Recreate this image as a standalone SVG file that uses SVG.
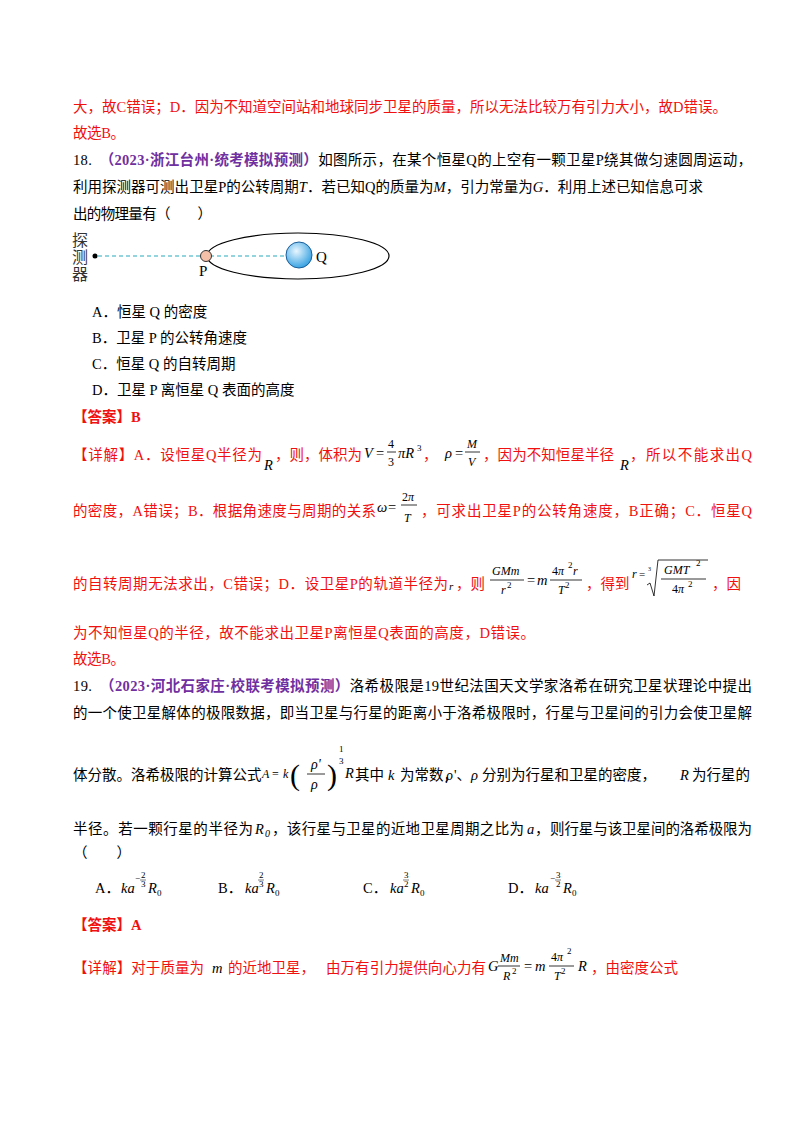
<svg xmlns="http://www.w3.org/2000/svg" width="800" height="1132" viewBox="0 0 800 1132">
<style>
text{font-family:"Liberation Serif","Noto Sans CJK SC",serif;font-size:14.5px;fill:#000}
.r{fill:#f01010}
.p{fill:#7030a0;font-weight:bold}
.m{font-style:italic}
.s{font-size:9px}
.f{font-size:12px}
.b{fill:#f01010;font-weight:bold}
line{stroke:#000;stroke-width:0.8}
</style>
<defs>
<radialGradient id="gq" cx="0.4" cy="0.35" r="0.7"><stop offset="0" stop-color="#e8f6ff"/><stop offset="1" stop-color="#2c9de0"/></radialGradient>
</defs>
<rect width="800" height="1132" fill="#fff"/>
<text x="73" y="112" class="r" textLength="654" lengthAdjust="spacing">大，故C错误；D．因为不知道空间站和地球同步卫星的质量，所以无法比较万有引力大小，故D错误。</text>
<text x="73" y="138" class="r" textLength="52" lengthAdjust="spacing">故选B。</text>
<text x="73" y="165" textLength="679" lengthAdjust="spacing">18.　<tspan class="p">（2023·浙江台州·统考模拟预测）</tspan>如图所示，在某个恒星Q的上空有一颗卫星P绕其做匀速圆周运动，</text>
<text x="73" y="192" textLength="630" lengthAdjust="spacing">利用探测器可测出卫星P的公转周期<tspan class="m">T</tspan>．若已知Q的质量为<tspan class="m">M</tspan>，引力常量为<tspan class="m">G</tspan>．利用上述已知信息可求</text>
<text x="73" y="219" textLength="139" lengthAdjust="spacing">出的物理量有（　　）</text>
<g id="diagram">
<text x="72" y="246" style="font-size:16px;fill:#333">探</text>
<text x="72" y="263" style="font-size:16px;fill:#333">测</text>
<text x="72" y="280" style="font-size:16px;fill:#333">器</text>
<circle cx="95" cy="256" r="2.5" fill="#000"/>
<line x1="98" y1="256" x2="286" y2="256" style="stroke:#2aa9c0;stroke-width:1.2" stroke-dasharray="4,3"/>
<ellipse cx="298" cy="256" rx="91" ry="23" fill="none" stroke="#000" stroke-width="1.2"/>
<circle cx="206" cy="256" r="5.5" fill="#f5c0a8" stroke="#333" stroke-width="1"/>
<circle cx="299" cy="255" r="13" fill="url(#gq)" stroke="#1a5f9a" stroke-width="1"/>
<text x="316" y="262" style="font-size:15px">Q</text>
<text x="199" y="276" style="font-size:15px">P</text>
</g>
<text x="92" y="317">A．恒星 Q 的密度</text>
<text x="92" y="343">B．卫星 P 的公转角速度</text>
<text x="92" y="369">C．恒星 Q 的自转周期</text>
<text x="92" y="395">D．卫星 P 离恒星 Q 表面的高度</text>
<text x="73" y="422" class="b">【答案】B</text>

<text x="73" y="460" class="r" textLength="189" lengthAdjust="spacing">【详解】A．设恒星Q半径为</text>
<text x="264" y="470" class="m">R</text>
<text x="275" y="460" class="r">，则，体积为</text>
<text x="364" y="458" class="m">V</text><text x="376" y="458">=</text>
<text x="388" y="448" class="f">4</text><line x1="387" y1="452" x2="396" y2="452"/><text x="388" y="466" class="f">3</text>
<text x="398" y="458" class="m">πR</text><text x="417" y="451" class="s">3</text>
<text x="423" y="460" class="r">，</text>
<text x="445" y="458" class="m">ρ</text><text x="455" y="458">=</text>
<text x="467" y="448" class="m f">M</text><line x1="465" y1="452" x2="480" y2="452"/><text x="468" y="466" class="m f">V</text>
<text x="483" y="460" class="r" textLength="131" lengthAdjust="spacing">，因为不知恒星半径</text>
<text x="620" y="470" class="m">R</text>
<text x="630" y="460" class="r" textLength="122" lengthAdjust="spacing">，所以不能求出Q</text>

<text x="73" y="516" class="r" textLength="303" lengthAdjust="spacing">的密度，A错误；B．根据角速度与周期的关系</text>
<text x="377" y="512" class="m">ω</text><text x="388" y="512">=</text>
<text x="402" y="501" class="f">2<tspan class="m">π</tspan></text><line x1="401" y1="505" x2="417" y2="505"/><text x="404" y="522" class="m f">T</text>
<text x="421" y="516" class="r" textLength="331" lengthAdjust="spacing">，可求出卫星P的公转角速度，B正确；C．恒星Q</text>

<text x="73" y="589" class="r" textLength="375" lengthAdjust="spacing">的自转周期无法求出，C错误；D．设卫星P的轨道半径为</text>
<text x="449" y="590" class="m" style="font-size:11px">r</text>
<text x="456" y="589" class="r">，则</text>
<text x="492" y="575" class="m f">GMm</text><line x1="490" y1="580" x2="524" y2="580"/><text x="501" y="594" class="m f">r</text><text x="507" y="588" class="s">2</text>
<text x="527" y="585">=</text><text x="537" y="585" class="m">m</text>
<text x="552" y="575" class="f">4<tspan class="m">π</tspan></text><text x="568" y="568" class="s">2</text><text x="573" y="575" class="m f">r</text><line x1="550" y1="580" x2="582" y2="580"/><text x="558" y="594" class="m f">T</text><text x="565" y="588" class="s">2</text>
<text x="586" y="589" class="r">，得到</text>
<text x="632" y="578" class="m f">r</text><text x="639" y="578" style="font-size:11px">=</text>
<polyline points="647,585 650,583 654,596 658,560 708,560" fill="none" stroke="#000" stroke-width="0.8"/>
<text x="648" y="571" style="font-size:6px">3</text>
<text x="664" y="574" class="m f">GMT</text><text x="696" y="566" class="s">2</text><line x1="661" y1="579" x2="706" y2="579"/><text x="672" y="593" class="f">4<tspan class="m">π</tspan></text><text x="688" y="587" class="s">2</text>
<text x="712" y="589" class="r">，因</text>

<text x="73" y="638" class="r" textLength="462" lengthAdjust="spacing">为不知恒星Q的半径，故不能求出卫星P离恒星Q表面的高度，D错误。</text>
<text x="73" y="664" class="r" textLength="52" lengthAdjust="spacing">故选B。</text>
<text x="73" y="691" textLength="679" lengthAdjust="spacing">19.　<tspan class="p">（2023·河北石家庄·校联考模拟预测）</tspan>洛希极限是19世纪法国天文学家洛希在研究卫星状理论中提出</text>
<text x="73" y="718" textLength="679" lengthAdjust="spacing">的一个使卫星解体的极限数据，即当卫星与行星的距离小于洛希极限时，行星与卫星间的引力会使卫星解</text>

<text x="73" y="780">体分散。洛希极限的计算公式</text>
<text x="262" y="778" class="m f">A</text><text x="272" y="778" class="f">=</text><text x="283" y="778" class="m f">k</text>
<text x="290" y="785" style="font-size:30px">(</text>
<text x="311" y="769" class="m" style="font-size:14px">ρ'</text><line x1="307" y1="774" x2="325" y2="774"/><text x="311" y="789" class="m" style="font-size:14px">ρ</text>
<text x="327" y="785" style="font-size:30px">)</text>
<text x="339" y="752" class="s">1</text><text x="339" y="764" class="s">3</text>
<text x="345" y="778" class="m">R</text>
<text x="355" y="780">其中</text><text x="388" y="780" class="m">k</text>
<text x="400" y="780">为常数，</text>
<text x="446" y="780" class="m">ρ</text><text x="454" y="780">'、</text><text x="471" y="780" class="m">ρ</text>
<text x="482" y="780">分别为行星和卫星的密度，</text>
<text x="680" y="780" class="m">R</text>
<text x="692" y="780">为行星的</text>

<text x="73" y="834" textLength="180" lengthAdjust="spacing">半径。若一颗行星的半径为</text>
<text x="255" y="834" class="m">R</text><text x="265" y="837" class="m" style="font-size:10px">0</text>
<text x="272" y="834" textLength="252" lengthAdjust="spacing">，该行星与卫星的近地卫星周期之比为</text>
<text x="527" y="834" class="m">a</text><text x="535" y="834">，</text>
<text x="550" y="834" textLength="202" lengthAdjust="spacing">则行星与该卫星间的洛希极限为</text>
<text x="73" y="858">（　　）</text>

<text x="95" y="893">A．</text><text x="121" y="893" class="m">ka</text>
<text x="135" y="881" class="s">−</text><text x="141" y="878" class="s">2</text><line x1="140" y1="880" x2="146" y2="880" style="stroke-width:0.5"/><text x="141" y="887" class="s">3</text><text x="148" y="893" class="m">R</text><text x="157" y="896" class="s">0</text>
<text x="218" y="893">B．</text><text x="245" y="893" class="m">ka</text>
<text x="259" y="878" class="s">2</text><line x1="258" y1="880" x2="264" y2="880" style="stroke-width:0.5"/><text x="259" y="887" class="s">3</text><text x="266" y="893" class="m">R</text><text x="275" y="896" class="s">0</text>
<text x="363" y="893">C．</text><text x="390" y="893" class="m">ka</text>
<text x="404" y="878" class="s">3</text><line x1="403" y1="880" x2="409" y2="880" style="stroke-width:0.5"/><text x="404" y="887" class="s">2</text><text x="411" y="893" class="m">R</text><text x="420" y="896" class="s">0</text>
<text x="508" y="893">D．</text><text x="535" y="893" class="m">ka</text>
<text x="550" y="881" class="s">−</text><text x="556" y="878" class="s">3</text><line x1="555" y1="880" x2="561" y2="880" style="stroke-width:0.5"/><text x="556" y="887" class="s">2</text><text x="563" y="893" class="m">R</text><text x="572" y="896" class="s">0</text>

<text x="73" y="930" class="b">【答案】A</text>
<text x="73" y="973" class="r" textLength="131" lengthAdjust="spacing">【详解】对于质量为</text>
<text x="212" y="973" class="m">m</text>
<text x="228" y="973" class="r">的近地卫星，</text>
<text x="326" y="973" class="r" textLength="160" lengthAdjust="spacing">由万有引力提供向心力有</text>
<text x="488" y="971" class="m">G</text>
<text x="500" y="962" class="m f">Mm</text><line x1="498" y1="966" x2="520" y2="966"/><text x="503" y="980" class="m f">R</text><text x="512" y="974" class="s">2</text>
<text x="524" y="971">=</text><text x="535" y="971" class="m">m</text>
<text x="551" y="961" class="f">4<tspan class="m">π</tspan></text><text x="567" y="954" class="s">2</text><line x1="549" y1="966" x2="574" y2="966"/><text x="554" y="980" class="m f">T</text><text x="561" y="974" class="s">2</text>
<text x="578" y="971" class="m">R</text>
<text x="591" y="973" class="r">，由密度公式</text>
</svg>
